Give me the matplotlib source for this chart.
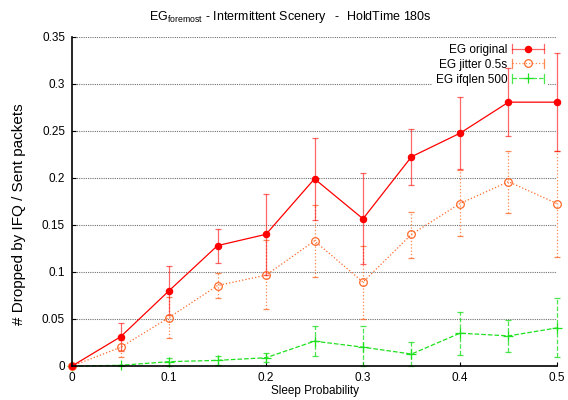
import matplotlib
matplotlib.use("Agg")
import matplotlib.pyplot as plt
from matplotlib.lines import Line2D
from matplotlib.legend_handler import HandlerBase

plt.rcParams['font.family'] = ['Liberation Sans', 'DejaVu Sans']
plt.rcParams['mathtext.fontset'] = 'custom'
plt.rcParams['mathtext.rm'] = 'Liberation Sans'
plt.rcParams['mathtext.it'] = 'Liberation Sans'

sleep_prob = [0.0, 0.05, 0.1, 0.15, 0.2, 0.25, 0.3, 0.35, 0.4, 0.45, 0.5]

orig_mean = [0.0, 0.031, 0.080, 0.128, 0.140, 0.199, 0.1565, 0.2225, 0.2475, 0.2805, 0.2805]
orig_low = [0.0, 0.016, 0.054, 0.109, 0.097, 0.155, 0.1085, 0.192, 0.209, 0.2445, 0.229]
orig_high = [0.0, 0.046, 0.106, 0.146, 0.183, 0.2425, 0.205, 0.252, 0.286, 0.3165, 0.3325]

jit_mean = [0.0, 0.0198, 0.0515, 0.0855, 0.0966, 0.133, 0.0892, 0.140, 0.1727, 0.196, 0.1727]
jit_low = [0.0, 0.0095, 0.030, 0.0726, 0.0606, 0.095, 0.0504, 0.115, 0.1385, 0.1625, 0.1163]
jit_high = [0.0, 0.028, 0.073, 0.0987, 0.134, 0.171, 0.128, 0.164, 0.2086, 0.229, 0.2284]

ifq_mean = [0.0, 0.0007, 0.0046, 0.006, 0.0088, 0.0264, 0.020, 0.0127, 0.0349, 0.032, 0.0405]
ifq_low = [0.0, 0.0, 0.0005, 0.001, 0.004, 0.011, 0.0, 0.0005, 0.0116, 0.0145, 0.0092]
ifq_high = [0.0, 0.0015, 0.0088, 0.011, 0.0137, 0.0423, 0.042, 0.025, 0.0578, 0.0494, 0.0722]

labels = ['EG original', 'EG jitter 0.5s', 'EG ifqlen 500']
xticks = [0, 0.1, 0.2, 0.3, 0.4, 0.5]
xticklabels = ['0', '0.1', '0.2', '0.3', '0.4', '0.5']
yticks = [0, 0.05, 0.1, 0.15, 0.2, 0.25, 0.3, 0.35]
yticklabels = ['0', '0.05', '0.1', '0.15', '0.2', '0.25', '0.3', '0.35']

RED = '#ff0000'
ORANGE = '#ff6a2a'
GREEN = '#1ee01e'

fig = plt.figure(figsize=(5.68, 4.0), dpi=100)
ax = fig.add_axes([0.1268, 0.085, 0.8538, 0.823])

series = [
    (orig_mean, orig_low, orig_high, RED, '-', 'o', RED, 4.5, 0.9),
    (jit_mean, jit_low, jit_high, ORANGE, ':', 'o', 'none', 5.5, 0.9),
    (ifq_mean, ifq_low, ifq_high, GREEN, '--', '+', GREEN, 6.5, 0.9),
]

for i, (m, lo, hi, c, ls, mk, mfc, ms, lw) in enumerate(series):
    yerr = [[mm - l for mm, l in zip(m, lo)], [h - mm for mm, h in zip(m, hi)]]
    ln, caps, bars = ax.errorbar(sleep_prob, m, yerr=yerr, color=c, ls=ls, lw=lw,
                                 marker=mk, mfc=mfc, mec=c, ms=ms, mew=0.9,
                                 ecolor=c, elinewidth=0.9, capsize=2.0, capthick=0.9,
                                 zorder=3 - i * 0.1, clip_on=False)
    for b in bars:
        b.set_linestyle(ls)
        b.set_alpha(0.6 if i == 0 else 0.8)
        b.set_clip_on(False)
    for cp in caps:
        cp.set_alpha(0.6 if i == 0 else 0.8)
        cp.set_clip_on(False)

ax.set_xlim(0, 0.5)
ax.set_ylim(0, 0.35)
ax.set_xticks(xticks)
ax.set_xticklabels(xticklabels)
ax.set_yticks(yticks)
ax.set_yticklabels(yticklabels)
ax.tick_params(direction='in', length=3, width=0.8, labelsize=8.5, pad=5, colors='black')
ax.tick_params(axis='x', pad=4)
for s in ['top', 'right']:
    ax.spines[s].set_visible(False)
for s in ['left', 'bottom']:
    ax.spines[s].set_linewidth(1.2)
    ax.spines[s].set_zorder(5)
ax.yaxis.grid(True, linestyle=(0, (1, 1)), color='#707070', linewidth=0.8)
ax.set_axisbelow(True)

ax.set_xlabel('Sleep Probability', fontsize=8.5, labelpad=1)
ax.set_ylabel('# Dropped by IFQ / Sent packets', fontsize=11)
ax.yaxis.set_label_coords(-0.095, 0.46)
fig.text(290 / 568, 1 - 17 / 400,
         r'EG$_{\mathrm{foremost}}$ - Intermittent Scenery   -  HoldTime 180s',
         fontsize=9, ha='center', va='center')


class ErrHandler(HandlerBase):
    def __init__(self, color, ls, marker, mfc, ms, alpha):
        super().__init__()
        self.c, self.ls, self.mk, self.mfc, self.ms, self.a = color, ls, marker, mfc, ms, alpha

    def create_artists(self, legend, orig_handle, xdescent, ydescent, width, height,
                       fontsize, trans):
        y = height / 2 - ydescent
        x0 = -xdescent
        x1 = x0 + width
        h = 3.0
        arts = [
            Line2D([x0, x1], [y, y], color=self.c, ls=self.ls, lw=0.9, alpha=self.a),
            Line2D([x0, x0], [y - h, y + h], color=self.c, lw=0.9, alpha=self.a),
            Line2D([x1, x1], [y - h, y + h], color=self.c, lw=0.9, alpha=self.a),
            Line2D([(x0 + x1) / 2], [y], color=self.c, marker=self.mk, mfc=self.mfc,
                   mec=self.c, ms=self.ms, mew=0.9, ls='none'),
        ]
        for a in arts:
            a.set_transform(trans)
        return arts


handles = [Line2D([], []) for _ in labels]
hmap = {
    handles[0]: ErrHandler(RED, '-', 'o', RED, 4.5, 0.6),
    handles[1]: ErrHandler(ORANGE, ':', 'o', 'none', 5.5, 0.8),
    handles[2]: ErrHandler(GREEN, '--', '+', GREEN, 6.5, 0.8),
}
leg = ax.legend(handles, labels, handler_map=hmap, loc='upper right',
                bbox_to_anchor=(0.98, 0.99), frameon=True, fancybox=False,
                edgecolor='none', facecolor='white', framealpha=1.0,
                markerfirst=False, fontsize=8.5, handlelength=2.7,
                handletextpad=0.4, labelspacing=0.25, borderpad=0.3,
                borderaxespad=0.0)
leg.set_zorder(2)

fig.savefig('out.png', dpi=100)
